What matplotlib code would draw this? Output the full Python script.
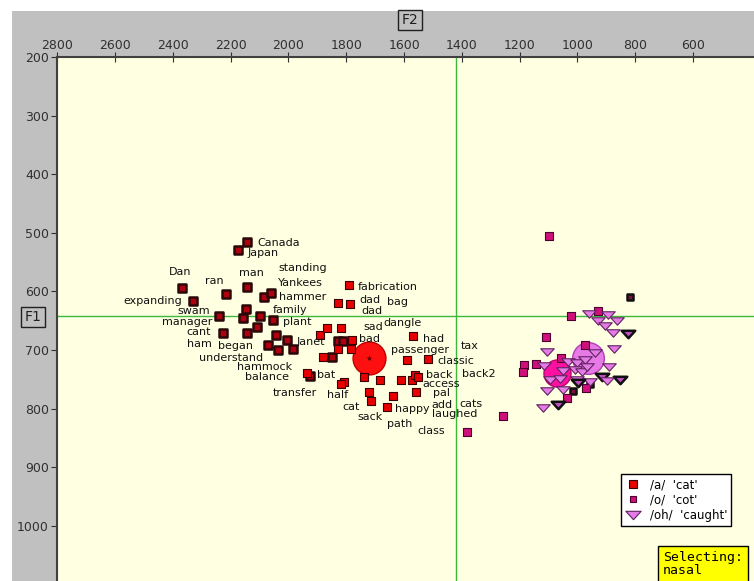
import matplotlib
matplotlib.use('Agg')
import matplotlib.pyplot as plt
from matplotlib.patches import Rectangle
from matplotlib.path import Path
from matplotlib.lines import Line2D

# /a/ 'cat' tokens (F2, F1); nasal ones are drawn with a thick dark outline
a_f2 = [2145, 2175, 2370, 2215, 2145, 2085, 2060, 2330, 2240, 2147, 2157, 2100, 2054,
        2227, 2145, 2110, 2071, 2043, 2036, 2005, 1984, 1829, 1811, 1850, 1926,
        1790, 1830, 1787, 1891, 1867, 1818, 1780, 1829, 1784, 1881, 1936, 1808, 1818,
        1739, 1683, 1722, 1715, 1638, 1659, 1569, 1590, 1517, 1611, 1573, 1562, 1552, 1559]
a_f1 = [515, 530, 595, 605, 593, 610, 603, 616, 642, 630, 645, 642, 649,
        671, 671, 661, 691, 674, 700, 683, 698, 685, 685, 712, 744,
        589, 620, 622, 674, 662, 662, 683, 698, 698, 712, 739, 755, 758,
        746, 751, 772, 787, 778, 797, 676, 717, 715, 751, 751, 743, 746, 772]
a_nasal = [1] * 25 + [0] * 27

# /o/ 'cot' tokens
o_f2 = [1100, 818, 1023, 929, 1109, 974, 1144, 1185, 1189, 1057, 1258, 957, 971, 1016, 1036, 1382]
o_f1 = [506, 610, 642, 634, 678, 691, 724, 726, 738, 714, 813, 758, 765, 770, 782, 840]
o_nasal = [0, 1, 0, 0, 0, 0, 0, 0, 0, 0, 0, 1, 0, 1, 0, 0]

# /oh/ 'caught' tokens
oh_f2 = [960, 895, 863, 929, 905, 877, 825, 1106, 940, 874, 891, 853, 915, 898, 1116, 1033,
         1002, 974, 1050, 1009, 1095, 1061, 1002, 957, 998, 1106, 1050, 1068, 1119, 985, 967]
oh_f1 = [639, 640, 651, 651, 659, 671, 673, 703, 705, 698, 729, 751, 746, 753, 727, 720,
         722, 717, 736, 734, 751, 749, 751, 755, 756, 770, 768, 794, 799, 738, 729]
oh_nasal = [0, 0, 0, 0, 0, 0, 1, 0, 0, 0, 0, 1, 1, 0, 0, 0,
            0, 0, 0, 0, 0, 0, 0, 0, 1, 0, 0, 1, 0, 0, 0]

# means
mean_f2 = [1722, 1071, 964]
mean_f1 = [714, 739, 714]

# word labels
words = ['Canada', 'Japan', 'Dan', 'ran', 'man', 'standing', 'Yankees', 'hammer', 'family',
         'plant', 'expanding', 'swam', 'manager', 'cant', 'ham', 'began', 'understand',
         'hammock', 'balance', 'transfer', 'Janet', 'bat', 'half', 'cat', 'sack', 'happy',
         'path', 'class', 'fabrication', 'dad', 'bag', 'dad', 'sad', 'dangle', 'bad', 'had',
         'passenger', 'tax', 'classic', 'back', 'back2', 'access', 'pal', 'add', 'cats', 'laughed']
word_f2 = [2109, 2140, 2414, 2289, 2171, 2036, 2036, 2033, 2054,
           2019, 2573, 2386, 2438, 2355, 2351, 2244, 2310,
           2178, 2151, 2054, 1971, 1901, 1867, 1815, 1763, 1632,
           1659, 1555, 1760, 1756, 1659, 1746, 1742, 1670, 1756, 1535,
           1645, 1403, 1483, 1524, 1400, 1535, 1500, 1507, 1410, 1504]
word_f1 = [517, 535, 567, 582, 569, 560, 586, 610, 632,
           652, 616, 634, 652, 669, 690, 693, 714,
           729, 746, 773, 686, 743, 777, 797, 814, 801,
           826, 838, 593, 615, 618, 634, 661, 654, 681, 681,
           700, 693, 719, 743, 741, 758, 773, 793, 792, 809]

x_ticks = [2800, 2600, 2400, 2200, 2000, 1800, 1600, 1400, 1200, 1000, 800, 600]
y_ticks = [200, 300, 400, 500, 600, 700, 800, 900, 1000]
cross_f2 = 1420
cross_f1 = 642

fig = plt.figure(figsize=(7.54, 5.81), dpi=100, facecolor='white')
fig.patches.append(Rectangle((12 / 754, 0), 1, 1 - 11 / 581, transform=fig.transFigure,
                             facecolor='#c0c0c0', edgecolor='none', zorder=-10))

ax = fig.add_axes([57.3 / 754, 0, 1 - 57.3 / 754, (581 - 56.9) / 581])
ax.set_facecolor('#ffffe1')
ax.set_xlim(2800, 389)
ax.set_ylim(1094, 200)

ax.xaxis.tick_top()
ax.set_xticks(x_ticks)
ax.set_yticks(y_ticks)
ax.tick_params(axis='x', direction='inout', length=7, labelsize=9, colors='#303030', pad=0)
ax.tick_params(axis='y', direction='out', length=4, labelsize=9, colors='#303030', pad=2)
for s in ['right', 'bottom']:
    ax.spines[s].set_visible(False)
for s in ['top', 'left']:
    ax.spines[s].set_color('#404040')
    ax.spines[s].set_linewidth(1.5)

ax.axvline(cross_f2, color='#3cb83c', lw=1, zorder=1)
ax.axhline(cross_f1, color='#3cb83c', lw=1, zorder=1)

# means
ax.scatter(mean_f2[0], mean_f1[0], s=560, marker='o', facecolor='#ff1010',
           edgecolor='#c00000', lw=1, zorder=2)
ax.scatter(mean_f2[0], mean_f1[0], s=20, marker='*', color='#600000', lw=0, zorder=6)
ax.scatter(mean_f2[2], mean_f1[2], s=520, marker='o', facecolor='#e87ae8',
           edgecolor='#b040b0', lw=1, zorder=2)
ax.scatter(mean_f2[1], mean_f1[1], s=380, marker='o', facecolor='#ff10a0',
           edgecolor='#c00070', lw=1, zorder=2)

# /a/
for f2, f1, n in zip(a_f2, a_f1, a_nasal):
    if n:
        ax.scatter(f2, f1, s=30, marker='s', facecolor='#b00010', edgecolor='#2a0808',
                   lw=1.8, zorder=4)
    else:
        ax.scatter(f2, f1, s=34, marker='s', facecolor='#e80000', edgecolor='#3a0000',
                   lw=0.8, zorder=4)

# /o/
for f2, f1, n in zip(o_f2, o_f1, o_nasal):
    if n:
        ax.scatter(f2, f1, s=24, marker='s', facecolor='#801040', edgecolor='#101010',
                   lw=1.8, zorder=3)
    else:
        ax.scatter(f2, f1, s=26, marker='s', facecolor='#d0107a', edgecolor='#4a0030',
                   lw=0.8, zorder=3)

# /oh/
tri = Path([(-1, 0.55), (1, 0.55), (0, -0.55), (-1, 0.55)],
           [Path.MOVETO, Path.LINETO, Path.LINETO, Path.CLOSEPOLY])
for f2, f1, n in zip(oh_f2, oh_f1, oh_nasal):
    if n:
        ax.scatter(f2, f1, s=95, marker=tri, facecolor='#c050c0', edgecolor='#101010',
                   lw=1.8, zorder=5)
    else:
        ax.scatter(f2, f1, s=95, marker=tri, facecolor='#e57ce5', edgecolor='#602060',
                   lw=0.8, zorder=5)

for w, f2, f1 in zip(words, word_f2, word_f1):
    ax.text(f2, f1, w, fontsize=8, ha='left', va='center', color='#111111', zorder=7)

handles = [
    Line2D([], [], marker='s', ls='none', markersize=6, markerfacecolor='#e80000',
           markeredgecolor='#3a0000', markeredgewidth=0.8),
    Line2D([], [], marker='s', ls='none', markersize=5, markerfacecolor='#d0107a',
           markeredgecolor='#4a0030', markeredgewidth=0.8),
    Line2D([], [], marker=tri, ls='none', markersize=11, markerfacecolor='#e57ce5',
           markeredgecolor='#602060', markeredgewidth=0.8),
]
leg = ax.legend(handles, ["/a/  'cat'", "/o/  'cot'", "/oh/  'caught'"],
                loc='upper left', bbox_to_anchor=(0.809, 0.204), fontsize=8.5,
                frameon=True, fancybox=False, framealpha=1, edgecolor='black',
                borderpad=0.35, labelspacing=0.2, handletextpad=0.8, handlelength=1.3,
                borderaxespad=0)
leg.get_frame().set_linewidth(1)
leg.set_zorder(10)

fig.text(410 / 754, 1 - 20 / 581, 'F2', ha='center', va='center', fontsize=10,
         color='#202020', bbox=dict(boxstyle='square,pad=0.25', facecolor='#c0c0c0',
                                    edgecolor='#202020', lw=1))
fig.text(33 / 754, 1 - 317 / 581, 'F1', ha='center', va='center', fontsize=10,
         color='#202020', bbox=dict(boxstyle='square,pad=0.25', facecolor='#c0c0c0',
                                    edgecolor='#202020', lw=1))

fig.text(663 / 754, 1 - 564 / 581, 'Selecting:\nnasal', ha='left', va='center',
         fontsize=9.5, family='DejaVu Sans Mono', linespacing=1.0,
         bbox=dict(boxstyle='square,pad=0.35', facecolor='#ffff00', edgecolor='black', lw=1))

fig.savefig('out.png', dpi=100)
